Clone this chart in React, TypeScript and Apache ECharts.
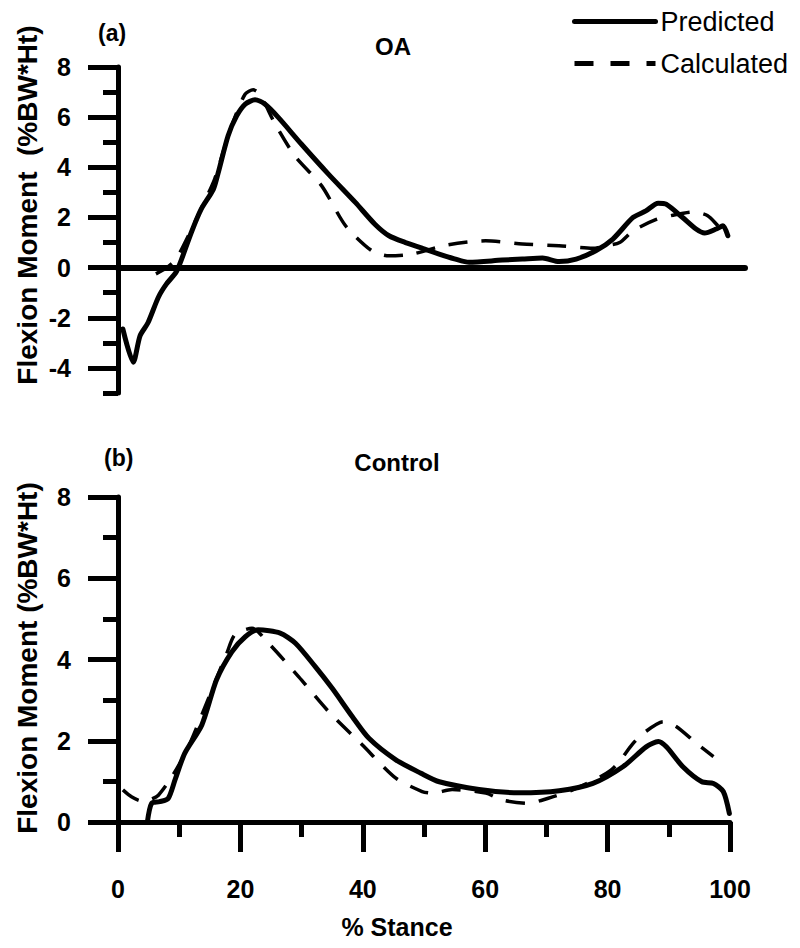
import React, { useEffect, useRef } from "react";
import * as echarts from "echarts";

const seriesNames = ["Predicted", "Calculated"];
const panelTitles = ["OA", "Control"];
const panelTags = ["(a)", "(b)"];
const yAxisTitles = ["Flexion Moment  (%BW*Ht)", "Flexion Moment (%BW*Ht)"];
const xAxisTitle = "% Stance";
const topMajorTicks = [-4, -2, 0, 2, 4, 6, 8];

const oaPredicted = [
  [0.8, -2.45], [2.5, -3.77], [3.6, -2.72], [4.9, -2.2], [6.6, -1.18], [7.9, -0.66],
  [9.5, -0.18], [10.4, 0.34], [12.0, 1.41], [13.6, 2.33], [15.6, 3.13], [16.4, 3.8],
  [18.0, 5.26], [19.4, 6.05], [20.8, 6.52], [22.4, 6.69], [24.0, 6.52], [26.2, 5.99],
  [30.0, 4.92], [34.4, 3.73], [38.8, 2.6], [42.0, 1.73], [44.3, 1.27], [47.0, 1.0],
  [49.7, 0.78], [52.5, 0.54], [55.0, 0.35], [57.4, 0.21], [62.8, 0.3], [66.1, 0.34],
  [69.4, 0.38], [72.1, 0.24], [74.9, 0.34], [78.1, 0.67], [80.9, 1.14], [84.2, 2.0],
  [86.3, 2.26], [88.3, 2.57], [89.6, 2.53], [92.3, 2.0], [94.5, 1.54], [95.9, 1.38],
  [97.8, 1.54], [98.9, 1.67], [99.7, 1.27],
];

const oaCalculated = [
  [6.2, -0.25], [8.0, 0.0], [9.5, 0.34], [11.5, 1.27], [13.5, 2.3], [15.8, 3.53],
  [17.5, 4.86], [19.1, 5.99], [20.8, 6.92], [22.1, 7.09], [23.2, 6.92], [25.7, 5.72],
  [28.9, 4.46], [33.3, 3.26], [37.2, 1.67], [41.5, 0.67], [44.3, 0.47], [48.1, 0.54],
  [53.7, 0.9], [60.1, 1.07], [66.1, 0.94], [72.1, 0.87], [77.6, 0.77], [79.8, 0.87],
  [82.0, 1.0], [84.2, 1.47], [87.9, 1.91], [90.7, 2.09], [94.0, 2.22], [96.4, 2.07],
  [98.4, 1.6], [99.7, 1.47],
];

const controlPredicted = [
  [4.8, 0], [5.5, 0.46], [6.8, 0.5], [8.2, 0.58], [9.3, 1.03], [10.9, 1.69],
  [13.7, 2.39], [16.1, 3.5], [18.6, 4.19], [20.8, 4.56], [22.9, 4.73], [26.5, 4.65],
  [29.0, 4.4], [32.2, 3.83], [35.0, 3.29], [38.3, 2.59], [41.0, 2.06], [45.4, 1.53],
  [49.5, 1.2], [52.5, 0.99], [59.0, 0.8], [65.6, 0.72], [72.1, 0.77], [77.6, 0.95],
  [82.5, 1.36], [86.3, 1.85], [88.3, 1.98], [89.6, 1.85], [92.3, 1.36], [95.4, 0.99],
  [97.3, 0.95], [98.9, 0.75], [99.9, 0.21],
];

const controlCalculated = [
  [0.8, 0.79], [2.2, 0.62], [3.8, 0.52], [5.2, 0.55], [6.6, 0.66], [9.0, 1.16],
  [11.5, 1.85], [15.8, 3.42], [17.8, 4.16], [19.1, 4.61], [21.9, 4.77], [24.6, 4.4],
  [29.5, 3.58], [34.4, 2.72], [39.9, 1.9], [45.4, 1.08], [49.7, 0.75], [51.4, 0.71],
  [54.6, 0.8], [60.1, 0.71], [62.8, 0.54], [67.2, 0.46], [68.9, 0.52], [74.3, 0.79],
  [80.6, 1.28], [84.2, 1.94], [85.8, 2.18], [89.1, 2.47], [91.2, 2.35], [94.5, 1.94],
  [97.3, 1.61],
];

const FONT = "'Liberation Sans', Arial, sans-serif";
const BLACK = "#000";

export default function App() {
  const ref = useRef<HTMLDivElement>(null);

  useEffect(() => {
    if (!ref.current) return;
    const chart = echarts.init(ref.current, undefined, { renderer: "svg" });

    const lineAxis = { show: true, lineStyle: { color: BLACK, width: 5, cap: "round" } };
    const labelStyle = { color: BLACK, fontFamily: FONT, fontWeight: "bold", fontSize: 25 };

    const solid = { color: BLACK, width: 5, type: "solid", join: "round", cap: "round" };
    const dashed = { color: BLACK, width: 3.5, type: [19, 14], join: "round" };

    const mkSeries = (name: string, data: number[][], idx: number, style: any) => ({
      name,
      type: "line",
      data,
      xAxisIndex: idx,
      yAxisIndex: idx === 0 ? 0 : 2,
      showSymbol: false,
      symbol: "none",
      smooth: 0.25,
      lineStyle: style,
      itemStyle: { color: BLACK },
      z: 3,
    });

    const option: any = {
      animation: false,
      backgroundColor: "#fff",
      legend: {
        orient: "vertical",
        left: 567,
        top: 3,
        itemWidth: 81,
        itemHeight: 14,
        itemGap: 15,
        selectedMode: false,
        data: [
          { name: seriesNames[0], itemStyle: { opacity: 0 }, lineStyle: { color: BLACK, width: 5, type: "solid" } },
          { name: seriesNames[1], itemStyle: { opacity: 0 }, lineStyle: { color: BLACK, width: 5, type: [19, 17] } },
        ],
        textStyle: { color: BLACK, fontFamily: FONT, fontSize: 27 },
      },
      grid: [
        { left: 118, top: 67, right: 55, bottom: 555, containLabel: false },
        { left: 118, top: 497, right: 70, bottom: 126, containLabel: false },
      ],
      xAxis: [
        {
          type: "value",
          gridIndex: 0,
          min: 0,
          max: 102.5,
          axisLine: { show: true, onZero: true, lineStyle: { color: BLACK, width: 6, cap: "round" } },
          axisTick: { show: false },
          axisLabel: { show: false },
          splitLine: { show: false },
        },
        {
          type: "value",
          gridIndex: 1,
          min: 0,
          max: 100,
          interval: 20,
          axisLine: lineAxis,
          axisTick: { show: true, length: 30, lineStyle: { color: BLACK, width: 5 } },
          minorTick: { show: true, splitNumber: 2, length: 15, lineStyle: { color: BLACK, width: 5 } },
          axisLabel: { ...labelStyle, margin: 54 },
          splitLine: { show: false },
          minorSplitLine: { show: false },
        },
      ],
      yAxis: [
        {
          type: "value",
          gridIndex: 0,
          min: -5,
          max: 8,
          interval: 1,
          axisLine: lineAxis,
          axisTick: { show: true, length: 15, lineStyle: { color: BLACK, width: 5 } },
          axisLabel: {
            ...labelStyle,
            margin: 47,
            formatter: (v: number) => (topMajorTicks.indexOf(v) >= 0 ? String(v) : ""),
          },
          splitLine: { show: false },
        },
        {
          type: "value",
          gridIndex: 0,
          min: -5,
          max: 8,
          position: "left",
          axisLine: { show: false },
          axisTick: {
            show: true,
            length: 30,
            customValues: topMajorTicks,
            lineStyle: { color: BLACK, width: 5 },
          },
          axisLabel: { show: false },
          splitLine: { show: false },
        },
        {
          type: "value",
          gridIndex: 1,
          min: 0,
          max: 8,
          interval: 2,
          axisLine: lineAxis,
          axisTick: { show: true, length: 30, lineStyle: { color: BLACK, width: 5 } },
          minorTick: { show: true, splitNumber: 2, length: 15, lineStyle: { color: BLACK, width: 5 } },
          axisLabel: { ...labelStyle, margin: 47 },
          splitLine: { show: false },
          minorSplitLine: { show: false },
        },
      ],
      series: [
        mkSeries(seriesNames[0], oaPredicted, 0, solid),
        mkSeries(seriesNames[1], oaCalculated, 0, dashed),
        mkSeries(seriesNames[0], controlPredicted, 1, solid),
        mkSeries(seriesNames[1], controlCalculated, 1, dashed),
      ],
      graphic: [
        {
          type: "text",
          x: 98,
          y: 33,
          style: { text: panelTags[0], fill: BLACK, font: `bold 23px ${FONT}`, align: "left", verticalAlign: "middle" },
        },
        {
          type: "text",
          x: 393,
          y: 46,
          style: { text: panelTitles[0], fill: BLACK, font: `bold 24px ${FONT}`, align: "center", verticalAlign: "middle" },
        },
        {
          type: "text",
          x: 104,
          y: 458,
          style: { text: panelTags[1], fill: BLACK, font: `bold 23px ${FONT}`, align: "left", verticalAlign: "middle" },
        },
        {
          type: "text",
          x: 397,
          y: 462,
          style: { text: panelTitles[1], fill: BLACK, font: `bold 24px ${FONT}`, align: "center", verticalAlign: "middle" },
        },
        {
          type: "text",
          x: 27,
          y: 205,
          rotation: Math.PI / 2,
          style: { text: yAxisTitles[0], fill: BLACK, font: `bold 28px ${FONT}`, align: "center", verticalAlign: "middle" },
        },
        {
          type: "text",
          x: 27,
          y: 658,
          rotation: Math.PI / 2,
          style: { text: yAxisTitles[1], fill: BLACK, font: `bold 28px ${FONT}`, align: "center", verticalAlign: "middle" },
        },
        {
          type: "text",
          x: 397,
          y: 927,
          style: { text: xAxisTitle, fill: BLACK, font: `bold 25px ${FONT}`, align: "center", verticalAlign: "middle" },
        },
      ],
    };

    chart.setOption(option);
    return () => chart.dispose();
  }, []);

  return (
    <div
      ref={ref}
      style={{ position: "fixed", left: 0, top: 0, width: 800, height: 948, background: "#fff" }}
    />
  );
}
